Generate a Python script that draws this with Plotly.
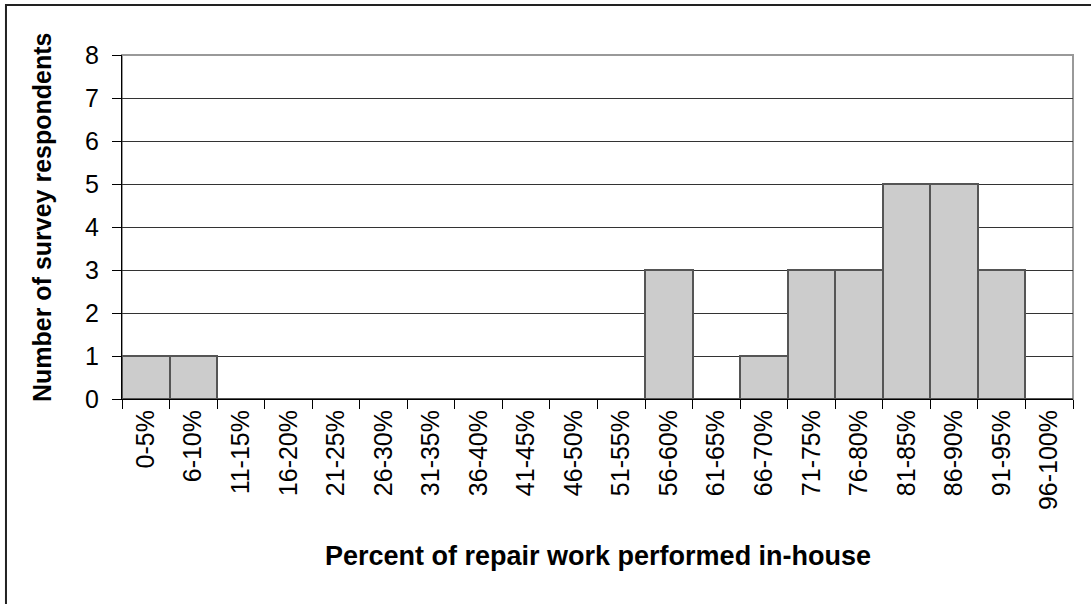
import plotly.graph_objects as go

# Survey histogram: share of repair work done in-house
categories = ["0-5%", "6-10%", "11-15%", "16-20%", "21-25%", "26-30%", "31-35%",
              "36-40%", "41-45%", "46-50%", "51-55%", "56-60%", "61-65%", "66-70%",
              "71-75%", "76-80%", "81-85%", "86-90%", "91-95%", "96-100%"]
respondents = [1, 1, 0, 0, 0, 0, 0, 0, 0, 0, 0, 3, 0, 1, 3, 3, 5, 5, 3, 0]
y_ticks = [0, 1, 2, 3, 4, 5, 6, 7, 8]

FONT = "Liberation Sans, Arial, sans-serif"

fig = go.Figure()

fig.add_trace(go.Bar(
    x=categories, y=respondents,
    marker=dict(color="#CCCCCC", line=dict(color="#555555", width=2)),
))

fig.update_layout(
    width=1091, height=604,
    paper_bgcolor="white", plot_bgcolor="white",
    margin=dict(l=122, r=18, t=55, b=205),
    bargap=0,
    showlegend=False,
    font=dict(family=FONT, color="black", size=25),
)

fig.update_xaxes(
    type="category", automargin=False,
    tickangle=-90,
    ticks="outside", tickson="boundaries", ticklen=9, tickcolor="black", tickwidth=1,
    showline=True, linecolor="black", linewidth=1,
    showgrid=False,
    tickfont=dict(size=25),
)

fig.update_yaxes(
    range=[0, 8], tickvals=y_ticks, automargin=False,
    ticks="outside", ticklen=9, tickcolor="black", tickwidth=1,
    ticklabelstandoff=8,
    showline=True, linecolor="black", linewidth=1,
    showgrid=True, gridcolor="#333333", gridwidth=1,
    zeroline=False,
    tickfont=dict(size=25),
)

# axis titles placed as annotations
fig.add_annotation(text="<b>Percent of repair work performed in-house</b>",
                   xref="paper", yref="paper", x=0.5, y=-0.456,
                   xanchor="center", yanchor="middle", showarrow=False,
                   font=dict(size=27))
fig.add_annotation(text="<b>Number of survey respondents</b>",
                   xref="paper", yref="paper", x=-0.0841, y=0.529,
                   xanchor="center", yanchor="middle", showarrow=False,
                   textangle=-90, font=dict(size=25))

# light grey frame on top/right of the plot area
fig.add_shape(type="rect", xref="paper", yref="paper", x0=0, x1=1, y0=0, y1=1,
              line=dict(color="#999999", width=2), layer="below")
# outer chart border (runs off the right and bottom of the picture)
fig.add_shape(type="rect", xref="paper", yref="paper", x0=-0.122, x1=1.05,
              y0=-0.7, y1=1.145, line=dict(color="#222222", width=2), layer="below")

# drop the default page margin so the figure sits at the window's corner
fig.write_html("out.html", config={"displayModeBar": False},
               post_script="document.body.style.margin='0';")
